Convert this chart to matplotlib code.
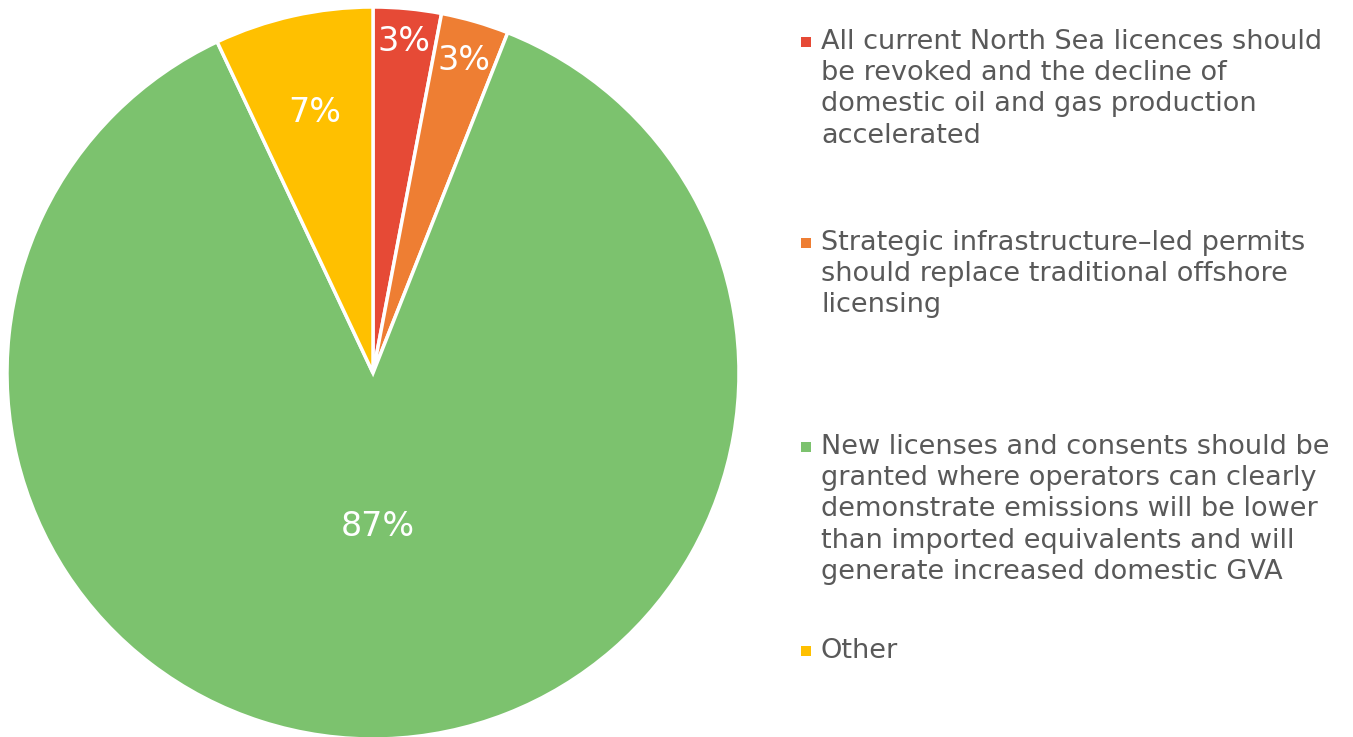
import numpy as np
import matplotlib.pyplot as plt
from matplotlib.patches import Rectangle

# survey answers (share of respondents, %)
labels = [
    "All current North Sea licences should\nbe revoked and the decline of\ndomestic oil and gas production\naccelerated",
    "Strategic infrastructure\u2013led permits\nshould replace traditional offshore\nlicensing",
    "New licenses and consents should be\ngranted where operators can clearly\ndemonstrate emissions will be lower\nthan imported equivalents and will\ngenerate increased domestic GVA",
    "Other",
]
shares = [3, 3, 87, 7]
colors = ['#E64A36', '#EE7E33', '#7CC26E', '#FFC000']
pct_labels = ['3%', '3%', '87%', '7%']

W, H = 1353, 737
fig = plt.figure(figsize=(W / 100, H / 100), dpi=100)
fig.patch.set_facecolor('white')

# pie centre ~ (373, 373) px, radius ~ 366 px
cx, cy, r = 373, 373, 366
ax = fig.add_axes([(cx - r) / W, (H - cy - r) / H, 2 * r / W, 2 * r / H])
wedges, _ = ax.pie(shares, colors=colors, startangle=90, counterclock=False,
                   radius=1, wedgeprops=dict(edgecolor='white', linewidth=2.5))
ax.set_xlim(-1, 1)
ax.set_ylim(-1, 1)
ax.set_aspect('equal')
ax.axis('off')

# percentage labels inside each slice
label_dist = [0.91, 0.89, 0.42, 0.73]
for w, txt, d in zip(wedges, pct_labels, label_dist):
    ang = np.deg2rad((w.theta1 + w.theta2) / 2)
    ax.text(d * np.cos(ang), d * np.sin(ang), txt, ha='center', va='center',
            color='white', fontsize=24, family='DejaVu Sans')

# legend on the right, drawn by hand so markers line up with the first line
entry_mid = [42, 243, 447, 651]
for lab, col, y in zip(labels, colors, entry_mid):
    fig.patches.append(Rectangle(((806 - 5) / W, (H - y - 5) / H), 10 / W, 10 / H,
                                 transform=fig.transFigure, facecolor=col,
                                 edgecolor='none'))
    fig.text(821 / W, (H - y + 13) / H, lab, ha='left', va='top',
             fontsize=19.5, color='#595959', linespacing=1.26,
             family='DejaVu Sans')

fig.savefig('out.png', dpi=100, facecolor='white')
